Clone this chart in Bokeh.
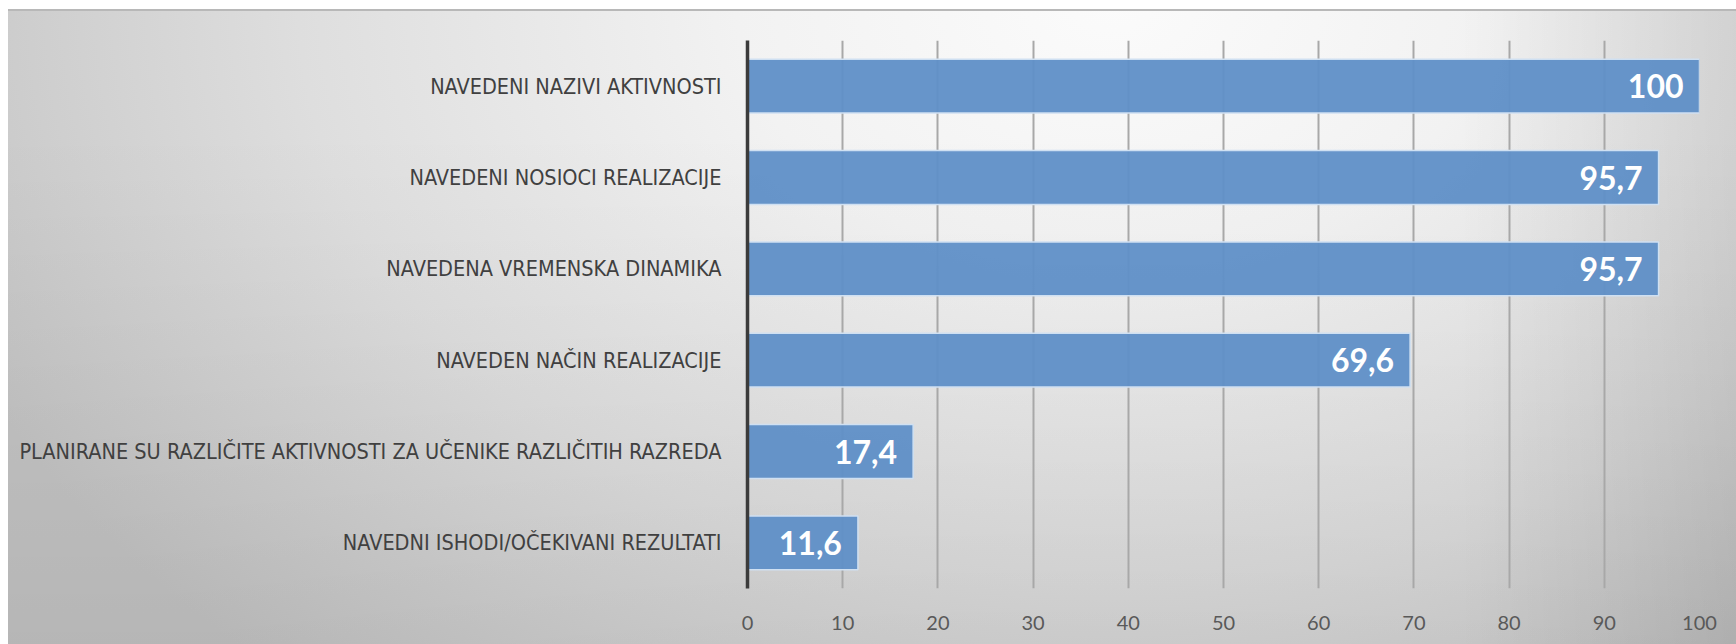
from bokeh.plotting import figure
from bokeh.models import ColumnDataSource, Range1d, FactorRange, FixedTicker
from bokeh.core.properties import value
from bokeh.embed import file_html
from bokeh.resources import INLINE

categories = [
    "NAVEDENI NAZIVI AKTIVNOSTI",
    "NAVEDENI NOSIOCI REALIZACIJE",
    "NAVEDENA VREMENSKA DINAMIKA",
    "NAVEDEN NAČIN REALIZACIJE",
    "PLANIRANE SU RAZLIČITE AKTIVNOSTI ZA UČENIKE RAZLIČITIH RAZREDA",
    "NAVEDNI ISHODI/OČEKIVANI REZULTATI",
]
values = [100, 95.7, 95.7, 69.6, 17.4, 11.6]
x_ticks = [0, 10, 20, 30, 40, 50, 60, 70, 80, 90, 100]

labels = [f"{v:g}".replace(".", ",") for v in values]
src = ColumnDataSource(dict(cat=categories, val=values, label=labels))

p = figure(
    width=1736, height=644,
    y_range=FactorRange(factors=list(reversed(categories))),
    x_range=Range1d(0, 100),
    output_backend="svg", toolbar_location=None, tools="",
    min_border_left=747, min_border_right=37,
    min_border_top=40, min_border_bottom=56,
)
p.background_fill_color = None
p.border_fill_color = None
p.outline_line_color = None
p.styles = {
    "background": (
        "linear-gradient(to right, #ffffff 0px, #ffffff 8px, rgba(255,255,255,0) 8px), "
        "linear-gradient(to bottom, #ffffff 0px, #ffffff 9px, #b8b8b8 9px, #b8b8b8 11px, rgba(255,255,255,0) 11px), "
        "linear-gradient(to right, rgba(0,0,0,0) 84%, rgba(0,0,0,0.09) 100%), "
        "linear-gradient(to bottom, rgba(0,0,0,0) 20%, rgba(0,0,0,0.07) 100%), "
        "radial-gradient(ellipse 72% 140% at 64% 0%, #fbfbfb 0%, #f2f2f2 30%, #dedede 65%, #c4c4c4 100%)"
    ),
}

p.hbar(y="cat", right="val", left=0, height=0.59, source=src,
       fill_color="#5f8fc7", fill_alpha=0.95,
       line_color="#cfe0f2", line_width=1.5)

p.text(x="val", y="cat", text="label", source=src,
       x_offset=-16, text_align="right", text_baseline="middle",
       text_color="white", text_font=value("Lato"),
       text_font_style="bold", text_font_size="32px")

# y axis
p.yaxis.axis_line_color = "#3b3b3b"
p.yaxis.axis_line_width = 3.5
p.yaxis.major_tick_line_color = None
p.yaxis.minor_tick_line_color = None
p.yaxis.major_label_text_font = "'Noto Sans Condensed', 'DejaVu Sans Condensed', Lato"
p.yaxis.major_label_text_font_size = "21.5px"
p.yaxis.major_label_text_color = "#404040"
p.yaxis.major_label_standoff = 20

# x axis
p.xaxis.ticker = FixedTicker(ticks=x_ticks)
p.xaxis.axis_line_color = None
p.xaxis.major_tick_line_color = None
p.xaxis.minor_tick_line_color = None
p.xaxis.major_label_text_font = "Lato"
p.xaxis.major_label_text_font_size = "20px"
p.xaxis.major_label_text_color = "#595959"
p.xaxis.major_label_standoff = 21

p.ygrid.grid_line_color = None
p.xgrid.ticker = FixedTicker(ticks=x_ticks)
p.xgrid.grid_line_color = "#a8a8a8"
p.xgrid.grid_line_width = 2

open("out.html", "w").write(file_html(p, INLINE))
